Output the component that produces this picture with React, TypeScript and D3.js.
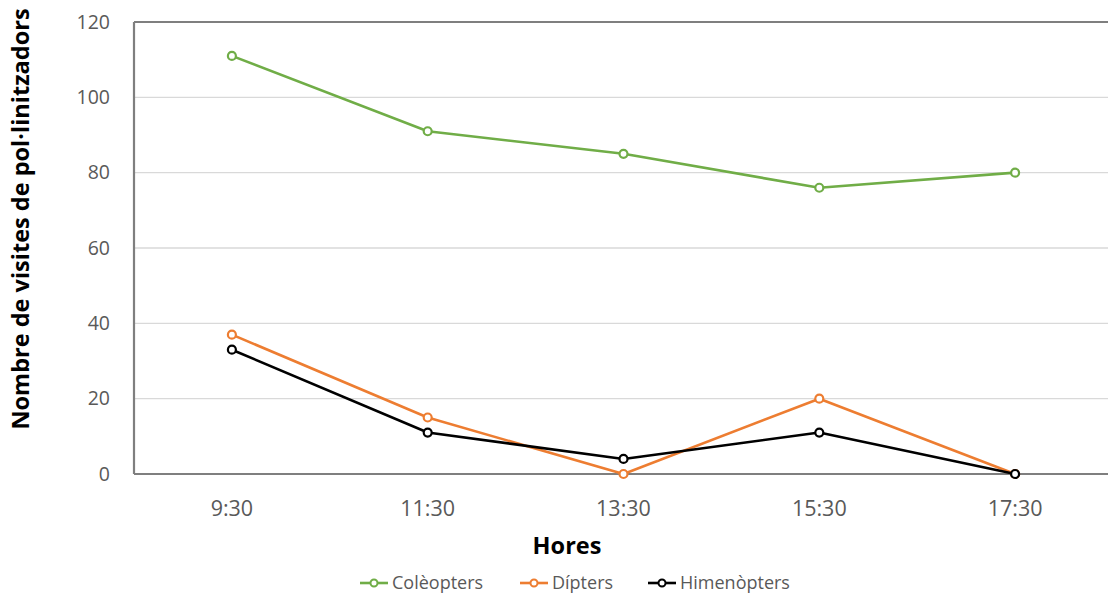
import React from "react";
import * as d3 from "d3";

const hours = ["9:30", "11:30", "13:30", "15:30", "17:30"];
const coleopters = [111, 91, 85, 76, 80];
const dipters = [37, 15, 0, 20, 0];
const himenopters = [33, 11, 4, 11, 0];
const yTicks = [0, 20, 40, 60, 80, 100, 120];

const seriesList = [
  { name: "Colèopters", values: coleopters, color: "#70AD47" },
  { name: "Dípters", values: dipters, color: "#ED7D31" },
  { name: "Himenòpters", values: himenopters, color: "#000000" },
];

const W = 1108;
const H = 597;
const plot = { left: 134, right: 1113, top: 22, bottom: 474 };
const FONT = "'Open Sans', sans-serif";

export default function App() {
  const x = d3
    .scaleBand<string>()
    .domain(hours)
    .range([plot.left, plot.right]);
  const y = d3.scaleLinear().domain([0, 120]).range([plot.bottom, plot.top]);
  const cx = (h: string) => (x(h) as number) + x.bandwidth() / 2;

  const line = d3
    .line<number>()
    .x((_, i) => cx(hours[i]))
    .y((d) => y(d));

  const legendX = [360, 520, 648];

  return (
    <svg
      width={W}
      height={H}
      style={{ position: "absolute", left: 0, top: 0, background: "#fff" }}
      fontFamily={FONT}
    >
      {/* horizontal gridlines */}
      {yTicks.slice(1, -1).map((t) => (
        <line
          key={t}
          x1={plot.left}
          x2={plot.right}
          y1={y(t)}
          y2={y(t)}
          stroke="#D9D9D9"
          strokeWidth={1.3}
        />
      ))}
      {/* frame: top and left borders, category axis */}
      <line x1={plot.left} x2={plot.right} y1={plot.top} y2={plot.top} stroke="#7F7F7F" strokeWidth={2.2} />
      <line x1={plot.left} x2={plot.left} y1={plot.top} y2={plot.bottom} stroke="#7F7F7F" strokeWidth={2.2} />
      <line x1={plot.left} x2={plot.right} y1={plot.bottom} y2={plot.bottom} stroke="#7F7F7F" strokeWidth={2.2} />

      {/* y tick labels */}
      {yTicks.map((t) => (
        <text
          key={t}
          x={110}
          y={y(t)}
          dy="0.35em"
          textAnchor="end"
          fontSize={19.5}
          fill="#595959"
        >
          {t}
        </text>
      ))}
      {/* x tick labels */}
      {hours.map((h) => (
        <text key={h} x={cx(h)} y={508} dy="0.35em" textAnchor="middle" fontSize={21.5} fill="#595959">
          {h}
        </text>
      ))}

      {/* axis titles */}
      <text x={567} y={546} dy="0.35em" textAnchor="middle" fontSize={23.5} fontWeight="bold" fill="#000">
        Hores
      </text>
      <text
        transform={`translate(21,219) rotate(-90)`}
        dy="0.35em"
        textAnchor="middle"
        fontSize={23.5}
        fontWeight="bold"
        fill="#000"
      >
        Nombre de visites de pol·linitzadors
      </text>

      {/* series */}
      {seriesList.map((s) => (
        <g key={s.name}>
          <path d={line(s.values) || ""} fill="none" stroke={s.color} strokeWidth={2.6} strokeLinejoin="round" />
          {s.values.map((v, i) => (
            <circle key={i} cx={cx(hours[i])} cy={y(v)} r={4} fill="#fff" stroke={s.color} strokeWidth={2.2} />
          ))}
        </g>
      ))}

      {/* legend */}
      {seriesList.map((s, i) => (
        <g key={s.name} transform={`translate(${legendX[i]},583)`}>
          <line x1={0} x2={28} y1={0} y2={0} stroke={s.color} strokeWidth={2.6} />
          <circle cx={14} cy={0} r={3.5} fill="#fff" stroke={s.color} strokeWidth={2} />
          <text x={32} y={0} dy="0.35em" fontSize={18} fill="#595959">
            {s.name}
          </text>
        </g>
      ))}
    </svg>
  );
}
